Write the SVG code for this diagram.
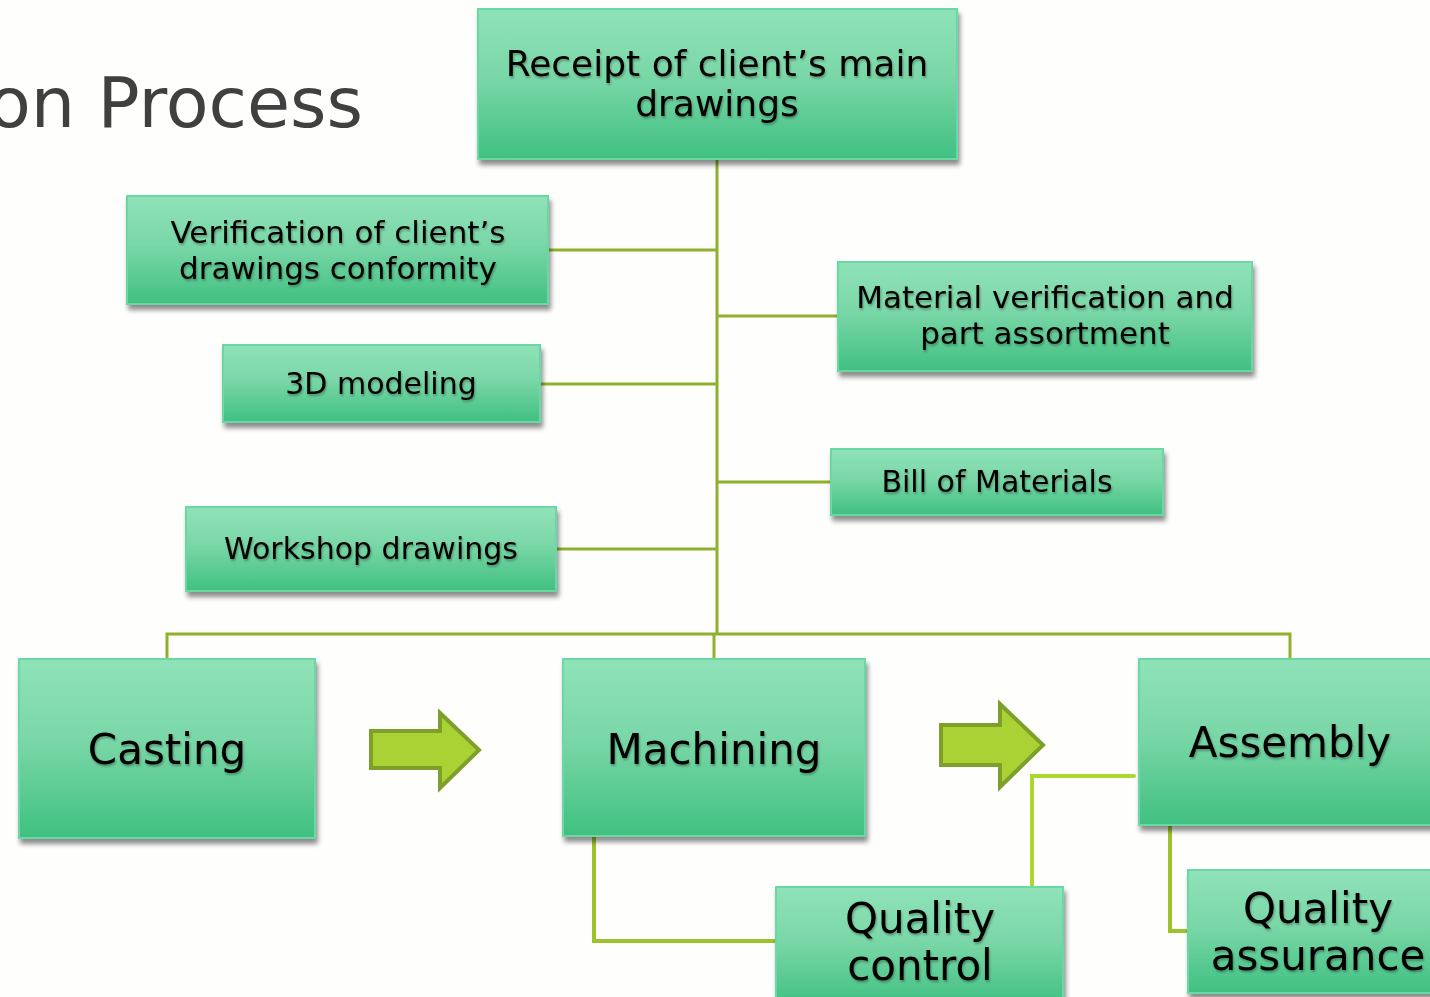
<svg xmlns="http://www.w3.org/2000/svg" width="1430" height="997" viewBox="0 0 1430 997">
<defs>
<linearGradient id="g" x1="0" y1="0" x2="0" y2="1">
<stop offset="0" stop-color="#90E2B9"/>
<stop offset="0.45" stop-color="#7AD7A7"/>
<stop offset="1" stop-color="#40C081"/>
</linearGradient>
<filter id="sh" x="-10%" y="-10%" width="125%" height="130%">
<feGaussianBlur in="SourceAlpha" stdDeviation="2.5"/>
<feOffset dx="2" dy="5" result="b"/>
<feComponentTransfer><feFuncA type="linear" slope="0.45"/></feComponentTransfer>
<feMerge><feMergeNode/><feMergeNode in="SourceGraphic"/></feMerge>
</filter>
<filter id="tsh" x="-5%" y="-20%" width="110%" height="150%">
<feGaussianBlur in="SourceAlpha" stdDeviation="1.2"/>
<feOffset dx="1" dy="2"/>
<feComponentTransfer><feFuncA type="linear" slope="0.3"/></feComponentTransfer>
<feMerge><feMergeNode/><feMergeNode in="SourceGraphic"/></feMerge>
</filter>
</defs>
<style>
.box{fill:url(#g);stroke:#6BD8A3;stroke-width:2;filter:url(#sh)}
.t{font-family:"DejaVu Sans","Liberation Sans",sans-serif;fill:#000;text-anchor:middle;filter:url(#tsh)}
.s{font-size:30px}
.s2{font-size:31px}
.m{font-size:36px}
.l{font-size:42px}
.c{fill:none;stroke:#8DB12A;stroke-width:3}
.c2{fill:none;stroke:#9CC22C;stroke-width:4;stroke-linecap:round}
.c3{fill:none;stroke:#AED632;stroke-width:4;stroke-linecap:round}
.arr{fill:#AAD234;stroke:#7EA02A;stroke-width:4}
</style>
<rect width="1430" height="997" fill="#FEFEFD"/>
<text x="-12" y="127" font-family="DejaVu Sans,Liberation Sans,sans-serif" font-size="70" fill="#404040">on Process</text>
<g id="connectors">
<path class="c" d="M717 160V634M167 659V634H1290V659M714 634V659M548 250H717M717 316H838M540 384H717M717 482H831M556 549H717"/>
<path class="c2" d="M594 837V941H776"/>
<path class="c3" d="M1032 892V776H1134"/>
<path class="c2" d="M1170 826V931H1188"/>
</g>
<g id="arrow1"><path class="arr" d="M371 731H440V713L479 750L440 788V768H371Z"/></g>
<g id="arrow2"><path class="arr" d="M941 725H1000V704L1043 745L1000 787V765H941Z"/></g>
<g id="n-receipt"><rect class="box" x="478" y="9" width="479" height="150"/>
<text class="t m" x="717" y="76">Receipt of client’s main</text><text class="t m" x="717" y="116">drawings</text></g>
<g id="n-verif"><rect class="box" x="127" y="196" width="421" height="108"/>
<text class="t s2" x="338" y="243">Verification of client’s</text><text class="t s2" x="338" y="279">drawings conformity</text></g>
<g id="n-3d"><rect class="box" x="223" y="345" width="317" height="77"/>
<text class="t s" x="381" y="394">3D modeling</text></g>
<g id="n-workshop"><rect class="box" x="186" y="507" width="370" height="84"/>
<text class="t s" x="371" y="559">Workshop drawings</text></g>
<g id="n-material"><rect class="box" x="838" y="262" width="414" height="109"/>
<text class="t s2" x="1045" y="308">Material verification and</text><text class="t s2" x="1045" y="344">part assortment</text></g>
<g id="n-bom"><rect class="box" x="831" y="449" width="332" height="66"/>
<text class="t s" x="997" y="492">Bill of Materials</text></g>
<g id="n-casting"><rect class="box" x="19" y="659" width="296" height="179"/>
<text class="t l" x="167" y="764">Casting</text></g>
<g id="n-machining"><rect class="box" x="563" y="659" width="302" height="177"/>
<text class="t l" x="714" y="764">Machining</text></g>
<g id="n-assembly"><rect class="box" x="1139" y="659" width="300" height="166"/>
<text class="t l" x="1290" y="757">Assembly</text></g>
<g id="n-qc"><rect class="box" x="776" y="887" width="287" height="120"/>
<text class="t l" x="920" y="933">Quality</text><text class="t l" x="920" y="980">control</text></g>
<g id="n-qa"><rect class="box" x="1188" y="870" width="250" height="123"/>
<text class="t l" x="1318" y="923">Quality</text><text class="t l" x="1318" y="970">assurance</text></g>
</svg>
